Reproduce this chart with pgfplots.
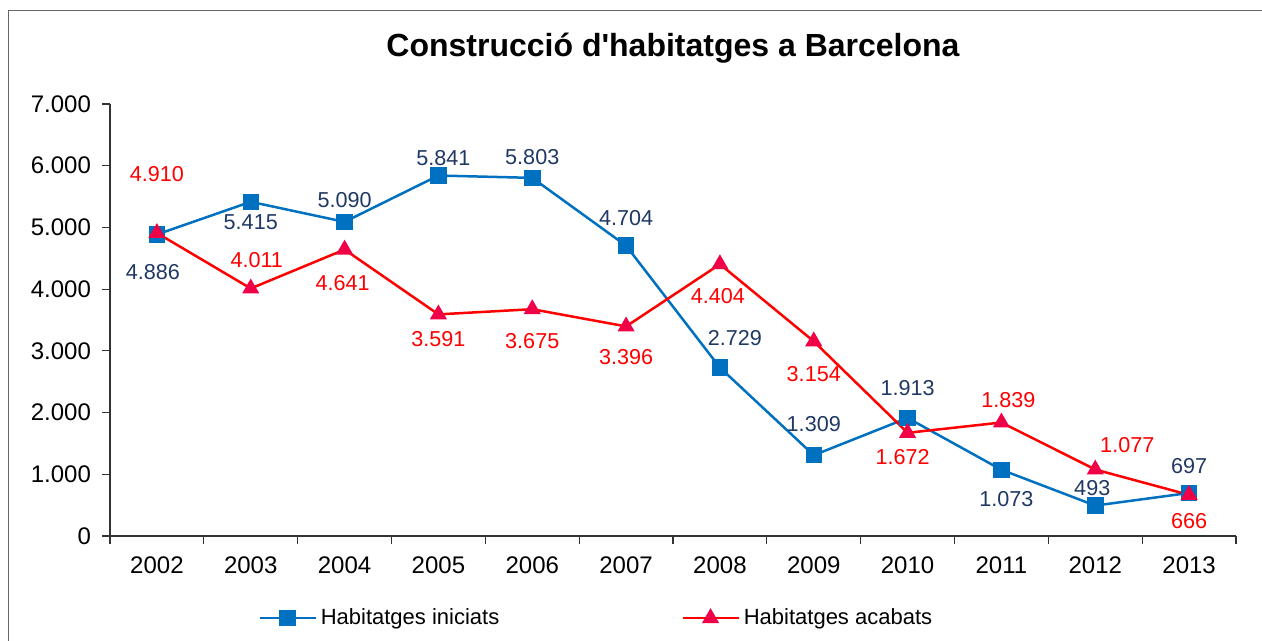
\documentclass[border=0pt]{standalone}
\usepackage{pgfplots}
\usepackage{pgfplotstable}
\usepackage{fontspec}
\setmainfont{Liberation Sans}
\pgfplotsset{compat=1.18}

\definecolor{inicblue}{RGB}{0,112,192}
\definecolor{labnavy}{RGB}{31,56,100}
\definecolor{acabred}{RGB}{255,0,0}
\definecolor{trifill}{RGB}{240,0,70}

% x y dx dy  (dx, dy = label offset in pt)
\pgfplotstableread{
x y dx dy
0 4886 -2 -19
1 5415 0 -10
2 5090 0 11
3 5841 2.5 8.75
4 5803 0 10.5
5 4704 0 14
6 2729 7.5 15
7 1309 0 15.5
8 1913 0 15
9 1073 2.5 -14.5
10 493 -1.5 9
11 697 0 13.5
}\iniciats

\pgfplotstableread{
x y dx dy
0 4910 0 29.5
1 4011 3 14
2 4641 -1 -16.5
3 3591 0 -12.5
4 3675 0 -16
5 3396 0 -15.5
6 4404 -1 -16
7 3154 0 -16.5
8 1672 -2.5 -12
9 1839 3.5 11
10 1077 16 12
11 666 0 -13
}\acabats

\begin{document}
\begin{tikzpicture}
\pgfkeys{/pgf/number format/.cd, 1000 sep={.}, assume math mode=true}
\begin{axis}[
    at={(55pt,52.5pt)}, anchor=south west,
    scale only axis,
    width=563pt, height=216pt,
    xmin=-0.5, xmax=11.5,
    ymin=0, ymax=7000,
    axis x line=bottom, axis y line=left,
    axis line style={-, black!80, line width=0.6pt},
    xtick={0,...,11},
    xticklabels={2002,2003,2004,2005,2006,2007,2008,2009,2010,2011,2012,2013},
    minor xtick={-0.5,0.5,...,11.5},
    major x tick style={draw=none},
    minor x tick style={black!80, line width=0.6pt},
    minor tick length=4pt,
    ytick={0,1000,...,7000},
    major tick length=4pt,
    tick align=outside,
    y tick style={black!80, line width=0.6pt},
    scaled y ticks=false,
    tick label style={font=\fontsize{12}{14}\selectfont},
    yticklabel style={xshift=-2pt},
    xticklabel style={yshift=-3pt},
    title={Construcci\'o d\textquotesingle habitatges a Barcelona},
    title style={at={(0.5,1)}, anchor=center, yshift=22pt,
        font=\fontsize{16}{19}\selectfont\bfseries},
    legend style={at={(0.126,-0.19)}, anchor=west, draw=none,
        legend columns=2, font=\fontsize{11}{13}\selectfont,
        /tikz/every even column/.append style={column sep=89pt},
        legend cell align=left},
    legend image code/.code={%
        \draw[mark repeat=2,mark phase=2] plot coordinates {(0pt,0pt) (14pt,0pt) (28pt,0pt)};},
    nodes near coords,
    point meta=y,
    visualization depends on={\thisrow{dx} \as \ldx},
    visualization depends on={\thisrow{dy} \as \ldy},
    every node near coord/.append style={anchor=center, xshift=\ldx pt, yshift=\ldy pt,
        font=\fontsize{10.8}{13}\selectfont},
]
\addplot[color=inicblue, line width=1.25pt, mark=square*, mark size=3.5pt,
    mark options={fill=inicblue, draw=inicblue},
    nodes near coords style={text=labnavy}] table[x=x, y=y] {\iniciats};
\addlegendentry{Habitatges iniciats}
\addplot[color=acabred, line width=1.25pt, mark=triangle*, mark size=3.7pt,
    mark options={fill=trifill, draw=trifill},
    nodes near coords style={text=acabred}] table[x=x, y=y] {\acabats};
\addlegendentry{Habitatges acabats}
\end{axis}
\draw[black!60, line width=0.5pt] (4pt,-2pt) |- (640pt,315pt);
\pgfresetboundingbox
\useasboundingbox (0,0) rectangle (631pt,320.5pt);
\end{tikzpicture}
\end{document}
